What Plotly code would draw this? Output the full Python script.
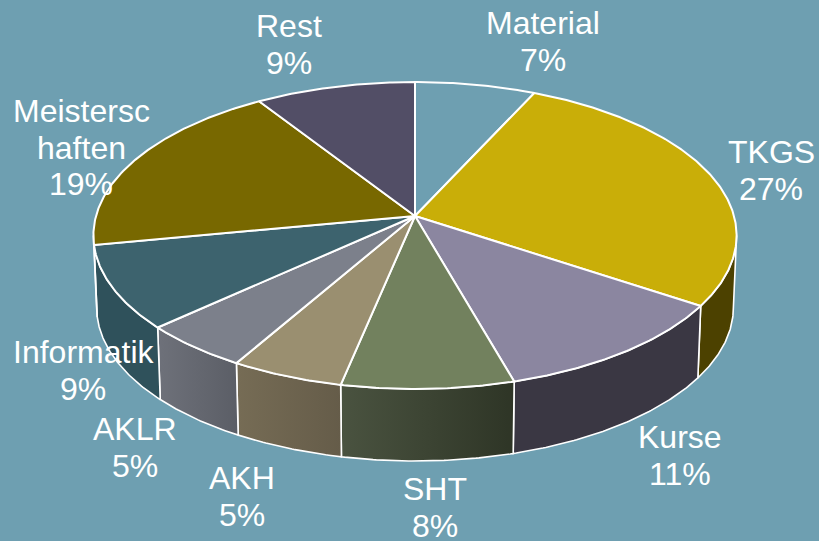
import numpy as np
import plotly.graph_objects as go

# Data, clockwise from 12 o'clock
categories = ["Material", "TKGS", "Kurse", "SHT", "AKH", "AKLR", "Informatik", "Meistersc\nhaften", "Rest"]
values = [6.85, 27.49, 11.26, 7.67, 5.03, 4.9, 8.8, 18.9, 9.1]

# Styles
top_colors = ["#6E9FB1", "#C9AE08", "#8B86A0", "#72815E", "#9A8F70", "#7C808B", "#3D636E", "#786800", "#524E66"]
wall_left = ["#4C4100", "#4C4100", "#3A3743", "#4A5340", "#766C55", "#6E717A", "#2F515B", "#4C4100", "#524E66"]
wall_right = ["#4C4100", "#4C4100", "#3A3743", "#2E3526", "#655C49", "#5B5E66", "#2F515B", "#4C4100", "#524E66"]
background = "#6E9FB1"

# Label centres (pixels), per category: x and the y of the first line
label_x = [543, 771, 680, 435, 242, 135, 83, 81, 289]
label_y = [23, 152, 437, 489, 478, 429, 352, 111, 26]
line_gap = 36.6
font_size = 32

# Projection of the tilted disc onto the picture
CX, CY = 415, 216
RX, RY, PERSP = 319, 151, 0.127
DEPTH, BOTTOM_SCALE = 72, 0.99


def project(theta, bottom=False):
    u, v = np.sin(theta), np.cos(theta)
    w = 1 + PERSP * v
    x = RX * u / w
    y = -RY * v / w
    if bottom:
        return CX + BOTTOM_SCALE * x, CY + y + DEPTH
    return CX + x, CY + y


def arc(a, b):
    n = max(2, int(abs(b - a) / np.radians(0.5)))
    return np.linspace(a, b, n)


total = sum(values)
edges = 2 * np.pi * np.cumsum([0] + values) / total
right_limit = np.arccos(-PERSP)              # where the disc is widest on the right
left_limit = 2 * np.pi - right_limit         # and on the left

fig = go.Figure()

# Side walls
for i in range(len(values)):
    a, b = max(edges[i], right_limit), min(edges[i + 1], left_limit)
    if b <= a:
        continue
    t = arc(a, b)
    xt, yt = project(t)
    xb, yb = project(t[::-1], bottom=True)
    fig.add_trace(go.Scatter(
        x=np.r_[xt, xb, xt[0]], y=np.r_[yt, yb, yt[0]],
        mode="lines", line=dict(color="white", width=1.6),
        fill="toself",
        fillgradient=dict(type="horizontal",
                          colorscale=[[0, wall_left[i]], [1, wall_right[i]]]),
        hoverinfo="skip", showlegend=False,
    ))

# Top face
for i in range(len(values)):
    t = arc(edges[i], edges[i + 1])
    x, y = project(t)
    fig.add_trace(go.Scatter(
        x=np.r_[CX, x, CX], y=np.r_[CY, y, CY],
        mode="lines", line=dict(color="white", width=2),
        fill="toself", fillcolor=top_colors[i],
        hoverinfo="skip", showlegend=False,
    ))

# Labels
for i, cat in enumerate(categories):
    lines = cat.split("\n") + [f"{round(values[i] / total * 100)}%"]
    for j, text in enumerate(lines):
        fig.add_annotation(
            x=label_x[i], y=label_y[i] + j * line_gap, text=text,
            showarrow=False, xanchor="center", yanchor="middle",
            font=dict(family="Liberation Sans", size=font_size, color="white"),
        )

fig.update_xaxes(visible=False, range=[0, 819], fixedrange=True)
fig.update_yaxes(visible=False, range=[541, 0], fixedrange=True)
fig.update_layout(
    width=819, height=541, margin=dict(l=0, r=0, t=0, b=0),
    paper_bgcolor=background, plot_bgcolor=background, showlegend=False,
)
fig.write_html("out.html", config={"displayModeBar": False},
               post_script="document.body.style.margin='0';document.documentElement.style.overflow='hidden';")
